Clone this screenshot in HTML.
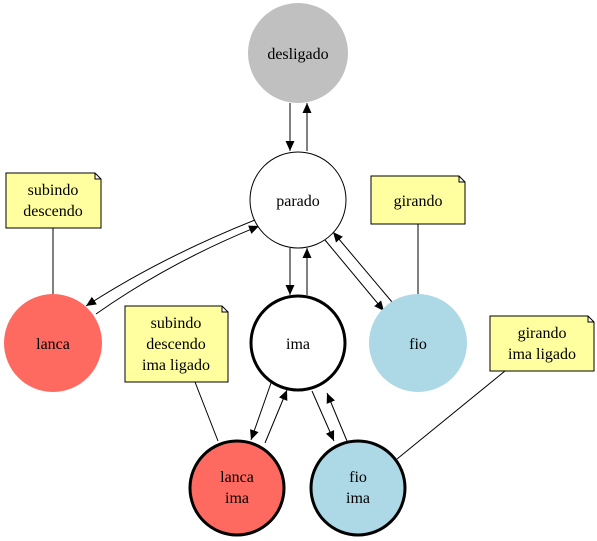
<!DOCTYPE html>
<html><head><meta charset="utf-8"><style>html,body{margin:0;padding:0;background:#fff}svg{display:block}text{font-family:"Liberation Serif",serif;font-size:16px;fill:#000}</style></head><body>
<svg width="597" height="541" viewBox="0 0 597 541" xmlns="http://www.w3.org/2000/svg">
<defs><marker id="a" viewBox="0 0 10 10" refX="10" refY="5" markerWidth="10" markerHeight="10" markerUnits="userSpaceOnUse" orient="auto"><path d="M0,0.5 L10,5 L0,9.5 z" fill="#000"/></marker></defs>
<g stroke="#000" stroke-width="1" fill="none">
<line x1="290" y1="103" x2="290" y2="151" marker-end="url(#a)"/>
<line x1="307" y1="151" x2="307" y2="103" marker-end="url(#a)"/>
<path d="M255,220 Q160,258 86,306" marker-end="url(#a)"/>
<path d="M96,314 Q170,262 259,226" marker-end="url(#a)"/>
<line x1="290" y1="248" x2="290" y2="295" marker-end="url(#a)"/>
<line x1="307" y1="295" x2="307" y2="248" marker-end="url(#a)"/>
<line x1="325" y1="240" x2="384" y2="311" marker-end="url(#a)"/>
<line x1="392" y1="302" x2="333" y2="232" marker-end="url(#a)"/>
<line x1="271" y1="383" x2="251" y2="440" marker-end="url(#a)"/>
<line x1="265" y1="443" x2="287" y2="390" marker-end="url(#a)"/>
<line x1="312" y1="391" x2="334" y2="441" marker-end="url(#a)"/>
<line x1="347" y1="441" x2="327" y2="393" marker-end="url(#a)"/>
<line x1="53" y1="228" x2="53" y2="295"/>
<line x1="418" y1="224" x2="418" y2="295"/>
<line x1="195" y1="382" x2="218" y2="441"/>
<line x1="505" y1="371" x2="397" y2="459"/>
</g>
<circle cx="298" cy="53" r="50" fill="#c0c0c0"/>
<circle cx="298" cy="200" r="48" fill="#fff" stroke="#000"/>
<circle cx="53" cy="343" r="49" fill="#ff6a60"/>
<circle cx="298" cy="343" r="47" fill="#fff" stroke="#000" stroke-width="3"/>
<circle cx="418" cy="343" r="49" fill="#add8e6"/>
<circle cx="237" cy="488" r="47" fill="#ff6a60" stroke="#000" stroke-width="3"/>
<circle cx="358" cy="488" r="47" fill="#add8e6" stroke="#000" stroke-width="3"/>
<g fill="#ffffa0" stroke="#000">
<path d="M6,173 H95 L101,179 V228 H6 Z M95,173 V179 H101"/>
<path d="M371,176 H459 L465,182 V224 H371 Z M459,176 V182 H465"/>
<path d="M125,306 H222 L228,312 V382 H125 Z M222,306 V312 H228"/>
<path d="M490,316 H588 L594,322 V371 H490 Z M588,316 V322 H594"/>
</g>
<g text-anchor="middle">
<text x="298" y="59">desligado</text>
<text x="298" y="206">parado</text>
<text x="53" y="349">lanca</text>
<text x="298" y="349">ima</text>
<text x="418" y="349">fio</text>
<text x="237" y="482">lanca</text><text x="237" y="503">ima</text>
<text x="358" y="482">fio</text><text x="358" y="503">ima</text>
<text x="53" y="195">subindo</text><text x="53" y="216">descendo</text>
<text x="418" y="206">girando</text>
<text x="176" y="328">subindo</text><text x="176" y="349">descendo</text><text x="176" y="370">ima ligado</text>
<text x="542" y="338">girando</text><text x="542" y="359">ima ligado</text>
</g>
</svg>
</body></html>
